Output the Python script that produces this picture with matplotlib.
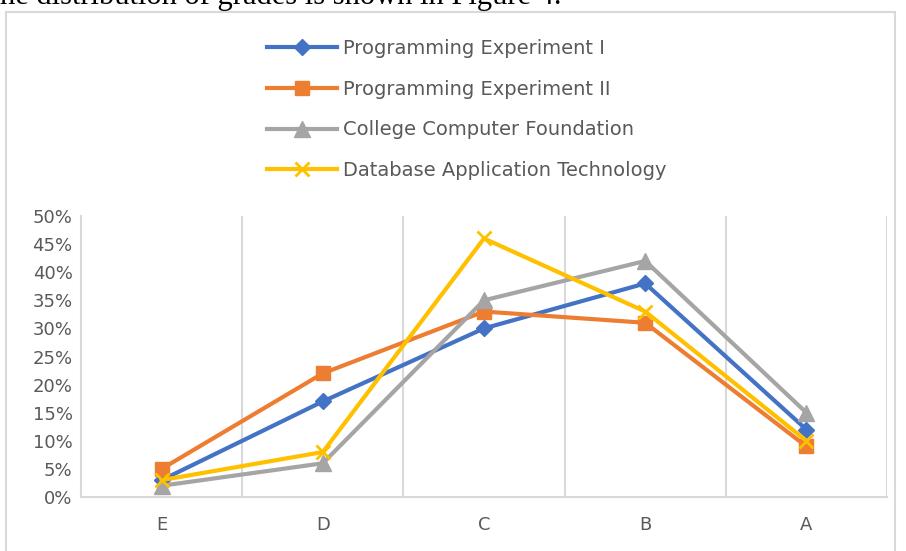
import numpy as np
import matplotlib.pyplot as plt
from matplotlib.patches import Rectangle
from matplotlib.ticker import PercentFormatter

# data (percent of students per grade)
grades = ['E', 'D', 'C', 'B', 'A']
prog_exp_1 = [3, 17, 30, 38, 12]
prog_exp_2 = [5, 22, 33, 31, 9]
college_cf = [2, 6, 35, 42, 15]
database_at = [3, 8, 46, 33, 10]
names = ['Programming Experiment I', 'Programming Experiment II',
         'College Computer Foundation', 'Database Application Technology']

txt_col = '#595959'
grid_col = '#D9D9D9'

fig = plt.figure(figsize=(9.06, 5.51), dpi=100)

# bit of the caption from the page above the chart
fig.text(0.0, 1 - 4 / 551, 'he distribution of grades is shown in Figure 4.',
         family='Liberation Serif', fontsize=22, color='black', va='baseline', ha='left')

# chart frame
fig.patches.append(Rectangle((6 / 906, -0.05), 889 / 906, 1 - 12 / 551 + 0.05,
                             transform=fig.transFigure, fill=False,
                             edgecolor=grid_col, lw=1.5))

ax = fig.add_axes([81 / 906, 1 - 497 / 551, (887 - 81) / 906, (497 - 216) / 551])
x = np.arange(len(grades))

ax.plot(x, prog_exp_1, color='#4472C4', lw=3, marker='D', ms=8, label=names[0])
ax.plot(x, prog_exp_2, color='#ED7D31', lw=3, marker='s', ms=10, label=names[1])
ax.plot(x, college_cf, color='#A5A5A5', lw=3, marker='^', ms=11, label=names[2])
ax.plot(x, database_at, color='#FFC000', lw=3, marker='x', ms=10, mew=2, label=names[3])

ax.set_xlim(-0.5, 4.5)
ax.set_ylim(0, 50)
ax.set_yticks(np.arange(0, 51, 5))
ax.yaxis.set_major_formatter(PercentFormatter(decimals=0))
ax.set_xticks(x)
ax.set_xticklabels(grades)
ax.set_xticks(np.arange(0.5, 5, 1), minor=True)
ax.grid(True, which='minor', axis='x', color=grid_col, lw=1.5)
ax.tick_params(which='both', length=0, colors=txt_col, labelsize=13)
ax.tick_params(axis='x', pad=14)
ax.tick_params(axis='y', pad=6)

for s in ['top', 'right']:
    ax.spines[s].set_visible(False)
ax.spines['left'].set_color(grid_col)
ax.spines['bottom'].set_color(grid_col)
ax.spines['left'].set_linewidth(1.5)
ax.spines['bottom'].set_linewidth(1.5)

leg = fig.legend(loc='upper left', bbox_to_anchor=(259 / 906, 1 - 31 / 551),
                 frameon=False, fontsize=14, labelspacing=1.12,
                 handlelength=3.6, handletextpad=0.3, borderaxespad=0)
for t in leg.get_texts():
    t.set_color(txt_col)

plt.savefig('out.png', dpi=100)
